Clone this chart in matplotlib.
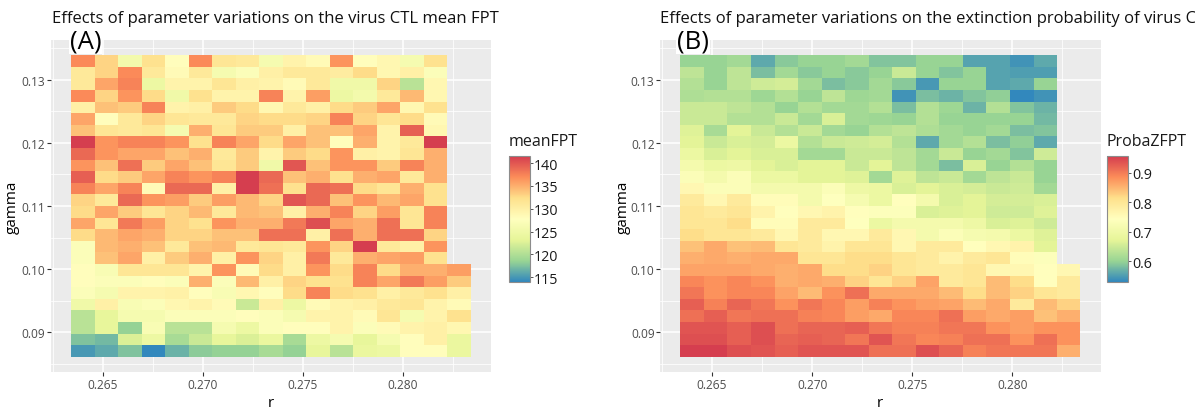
import numpy as np
import matplotlib
matplotlib.use("Agg")
import matplotlib.pyplot as plt
from matplotlib.colors import LinearSegmentedColormap

plt.rcParams['font.family'] = ['Open Sans', 'DejaVu Sans']

# ---------------- data ----------------
r_values = [0.26400, 0.26518, 0.26635, 0.26753, 0.26871, 0.26988, 0.27106, 0.27224, 0.27341,
            0.27459, 0.27576, 0.27694, 0.27812, 0.27929, 0.28047, 0.28165, 0.28282]
# rows from top (largest gamma) to bottom
gamma_values = [0.13300, 0.13116, 0.12932, 0.12748, 0.12564, 0.12380, 0.12196, 0.12012, 0.11828,
                0.11644, 0.11460, 0.11276, 0.11092, 0.10908, 0.10724, 0.10540, 0.10356, 0.10172,
                0.09988, 0.09804, 0.09620, 0.09436, 0.09252, 0.09068, 0.08884, 0.08700]

N = None
meanFPT = [
    [137, 133, 125.5, 132, 128, 137, 131.5, 131, 126, 129.5, 128.5, 136.5, 128, 129, 126, 132, N],
    [131, 133, 137, 131, 128.5, 131, 126, 127, 130, 131, 131, 130.5, 132.5, 129, 130, 127, N],
    [131, 135.5, 137.5, 124.5, 129.5, 129.5, 131.5, 130, 129.5, 128.5, 131, 125, 125, 133, 120.5, 129, N],
    [137, 133, 136.5, 132.5, 125, 132, 129.5, 129.5, 137.5, 129.5, 136, 124.5, 125.5, 131, 134.5, 129, N],
    [130, 134, 133.5, 137.5, 129.5, 130, 133.5, 132.5, 129, 131, 130, 132.5, 133.5, 135.5, 129, 132, N],
    [135.5, 128, 131, 133, 131.5, 131, 131, 133, 132.5, 132.5, 133, 137.5, 133, 131.5, 132.5, 128.5, N],
    [134, 131.5, 131, 131.5, 126, 135, 131.5, 133.5, 133.5, 130, 134, 134, 135.5, 129.5, 139.5, 129, N],
    [141.5, 136.5, 137.5, 137.5, 136.5, 132, 137.5, 135.5, 132.5, 135.5, 134, 128, 135, 129.5, 131, 141.5, N],
    [139, 136.5, 135.5, 135.5, 134, 135, 131, 133.5, 129.5, 133.5, 132.5, 136.5, 130, 129.5, 131.5, 135, N],
    [136.5, 134, 138.5, 133.5, 135.5, 134, 131.5, 133.5, 125, 140, 134, 136.5, 136.5, 133.5, 137.5, 135, N],
    [139.5, 132.5, 133.5, 135.5, 137.5, 136.5, 137.5, 141.5, 139, 134, 135, 132, 135, 135.5, 131, 135, N],
    [137.5, 135.5, 137.5, 128.5, 139, 139, 130, 141.5, 138.5, 132, 139, 138.5, 132.5, 131.5, 135, 132, N],
    [133, 131, 139, 136.5, 136, 133.5, 136, 134.5, 133, 140, 139, 134, 136.5, 134.5, 135.5, 132, N],
    [132.5, 135.5, 133.5, 131.5, 133, 134.5, 131, 134.5, 134, 130, 135, 137.5, 133, 136, 131.5, 137.5, N],
    [135.5, 131.5, 138, 136, 133, 132, 136.5, 135, 135, 138, 140.5, 135.5, 135, 138.5, 131.5, 137.5, N],
    [132.5, 134.5, 135.5, 135, 133, 133, 134, 134, 138.5, 138.5, 130, 138.5, 135, 138.5, 138.5, 133, N],
    [127, 134.5, 135, 134, 131, 134, 134.5, 131, 131.5, 131, 136.5, 133, 141.5, 131, 130, 136.5, N],
    [127, 134, 135.5, 130, 133.5, 135, 130, 136.5, 133, 130, 138, 131, 135, 135.5, 136, 132, N],
    [128, 126.5, 131.5, 131.5, 131.5, 129.5, 136.5, 128.5, 132.5, 130, 136.5, 132.5, 137.5, 132.5, 135, 135, 136],
    [128, 127, 127, 128, 127, 135, 127, 134.5, 130, 133, 132, 132, 137.5, 135.5, 138, 136, 133.5],
    [127, 126, 129.5, 129.5, 129.8, 128, 126.5, 129, 128, 132.5, 137.5, 132.5, 132, 130, 131, 132, 130],
    [125, 130, 126.5, 127, 129, 129.5, 128.5, 121.5, 130, 124.5, 128.5, 129.5, 130, 131, 131.5, 129.5, 128.5],
    [120.5, 123.5, 126, 126, 127, 127, 127, 128, 127, 126, 129.5, 129.5, 128.5, 131.5, 126, 129.5, 132],
    [120.5, 123.5, 118.5, 126.5, 120.5, 120.5, 126, 124.5, 127, 128, 128, 129.5, 127, 128.5, 129.5, 130, 129],
    [117.5, 117, 122.5, 124.5, 119.5, 121.5, 123.5, 122.5, 124, 119.5, 124.5, 126, 123.5, 126, 128, 130, 124],
    [115, 116, 117.5, 114, 116.5, 118, 118.5, 118.5, 119.5, 118.5, 123.5, 120.5, 124, 124.5, 128, 128, 124],
]

ProbaZFPT = [
    [0.6, 0.6, 0.61, 0.56, 0.59, 0.6, 0.6, 0.61, 0.585, 0.585, 0.6, 0.6, 0.555, 0.555, 0.54, 0.56, N],
    [0.635, 0.6, 0.635, 0.58, 0.61, 0.59, 0.6, 0.59, 0.6, 0.645, 0.6, 0.585, 0.6, 0.555, 0.55, 0.55, N],
    [0.625, 0.6, 0.635, 0.65, 0.655, 0.61, 0.58, 0.59, 0.61, 0.59, 0.545, 0.6, 0.6, 0.555, 0.56, 0.6, N],
    [0.62, 0.625, 0.625, 0.605, 0.625, 0.6, 0.635, 0.605, 0.61, 0.54, 0.58, 0.57, 0.585, 0.595, 0.53, 0.54, N],
    [0.645, 0.645, 0.635, 0.625, 0.6, 0.625, 0.61, 0.61, 0.625, 0.58, 0.625, 0.605, 0.57, 0.625, 0.585, 0.57, N],
    [0.645, 0.645, 0.625, 0.625, 0.645, 0.61, 0.66, 0.61, 0.605, 0.6, 0.625, 0.6, 0.6, 0.6, 0.6, 0.575, N],
    [0.665, 0.615, 0.67, 0.645, 0.625, 0.645, 0.61, 0.6, 0.625, 0.635, 0.62, 0.61, 0.6, 0.61, 0.58, 0.585, N],
    [0.67, 0.645, 0.66, 0.655, 0.69, 0.625, 0.645, 0.65, 0.655, 0.625, 0.56, 0.61, 0.625, 0.58, 0.595, 0.56, N],
    [0.69, 0.66, 0.67, 0.66, 0.66, 0.61, 0.61, 0.645, 0.645, 0.635, 0.61, 0.645, 0.6, 0.61, 0.585, 0.65, N],
    [0.71, 0.69, 0.695, 0.67, 0.66, 0.67, 0.67, 0.645, 0.67, 0.635, 0.61, 0.58, 0.66, 0.6, 0.625, 0.6, N],
    [0.73, 0.71, 0.73, 0.69, 0.69, 0.67, 0.67, 0.665, 0.61, 0.665, 0.635, 0.645, 0.61, 0.635, 0.645, 0.6, N],
    [0.76, 0.73, 0.73, 0.71, 0.71, 0.71, 0.73, 0.695, 0.69, 0.66, 0.67, 0.66, 0.655, 0.645, 0.65, 0.61, N],
    [0.79, 0.76, 0.79, 0.75, 0.75, 0.71, 0.74, 0.715, 0.69, 0.745, 0.71, 0.66, 0.67, 0.655, 0.655, 0.66, N],
    [0.8, 0.79, 0.8, 0.77, 0.745, 0.76, 0.77, 0.745, 0.735, 0.735, 0.66, 0.665, 0.67, 0.65, 0.65, 0.665, N],
    [0.8, 0.8, 0.815, 0.75, 0.75, 0.79, 0.79, 0.74, 0.69, 0.71, 0.71, 0.71, 0.695, 0.66, 0.665, 0.65, N],
    [0.815, 0.8, 0.8, 0.79, 0.76, 0.79, 0.76, 0.76, 0.79, 0.76, 0.71, 0.73, 0.715, 0.71, 0.69, 0.665, N],
    [0.84, 0.86, 0.84, 0.845, 0.8, 0.79, 0.77, 0.8, 0.8, 0.76, 0.79, 0.79, 0.745, 0.76, 0.77, 0.67, N],
    [0.855, 0.86, 0.855, 0.86, 0.86, 0.8, 0.8, 0.815, 0.815, 0.8, 0.79, 0.77, 0.79, 0.8, 0.75, 0.735, N],
    [0.865, 0.865, 0.865, 0.86, 0.855, 0.86, 0.815, 0.815, 0.825, 0.8, 0.79, 0.79, 0.8, 0.76, 0.76, 0.745, 0.76],
    [0.89, 0.88, 0.89, 0.88, 0.855, 0.86, 0.855, 0.825, 0.8, 0.825, 0.865, 0.79, 0.8, 0.845, 0.815, 0.745, 0.79],
    [0.905, 0.88, 0.89, 0.89, 0.865, 0.845, 0.88, 0.91, 0.86, 0.86, 0.86, 0.845, 0.815, 0.845, 0.825, 0.8, 0.79],
    [0.925, 0.895, 0.92, 0.905, 0.88, 0.905, 0.89, 0.87, 0.895, 0.88, 0.87, 0.865, 0.845, 0.86, 0.79, 0.845, 0.825],
    [0.91, 0.925, 0.905, 0.91, 0.91, 0.895, 0.89, 0.87, 0.86, 0.89, 0.89, 0.91, 0.87, 0.86, 0.87, 0.84, 0.855],
    [0.935, 0.935, 0.925, 0.94, 0.91, 0.92, 0.92, 0.925, 0.905, 0.895, 0.895, 0.905, 0.905, 0.88, 0.87, 0.88, 0.88],
    [0.94, 0.94, 0.925, 0.94, 0.92, 0.925, 0.92, 0.905, 0.935, 0.905, 0.89, 0.895, 0.91, 0.91, 0.88, 0.91, 0.88],
    [0.955, 0.955, 0.94, 0.935, 0.925, 0.935, 0.935, 0.935, 0.91, 0.91, 0.94, 0.92, 0.895, 0.905, 0.905, 0.905, 0.855],
]

x_ticks = [0.265, 0.270, 0.275, 0.280]
x_ticklabels = ["0.265", "0.270", "0.275", "0.280"]
y_ticks = [0.09, 0.10, 0.11, 0.12, 0.13]
y_ticklabels = ["0.09", "0.10", "0.11", "0.12", "0.13"]

titles = ["Effects of parameter variations on the virus CTL mean FPT",
          "Effects of parameter variations on the extinction probability of virus CTL"]
panel_tags = ["(A)", "(B)"]
legend_titles = ["meanFPT", "ProbaZFPT"]
cbar_ticks = [[115, 120, 125, 130, 135, 140], [0.6, 0.7, 0.8, 0.9]]
cbar_ticklabels = [["115", "120", "125", "130", "135", "140"], ["0.6", "0.7", "0.8", "0.9"]]

# ---------------- style ----------------
spectral7 = ["#3288BD", "#99D594", "#E6F598", "#FFFFBF", "#FEE08B", "#FC8D59", "#D53E4F"]
cmap = LinearSegmentedColormap.from_list("spectral_gg", spectral7)
cmap.set_bad((0, 0, 0, 0))

W, H = 1195, 414
fig = plt.figure(figsize=(W / 100, H / 100), dpi=100)

def fx(px):
    return px / W

def fy(py):
    return 1 - py / H

panels = [
    dict(ax=(51, 41, 490.7, 373), cb=(509, 157.3, 530, 282.7), title_x=52, tag_x=70,
         ylab_x=12, xlab_x=271),
    dict(ax=(660.2, 41, 1100.6, 373), cb=(1106.7, 157.3, 1128.3, 282.7), title_x=660, tag_x=677,
         ylab_x=623, xlab_x=880),
]

datasets = [meanFPT, ProbaZFPT]
r_arr = np.array(r_values)
g_arr = np.array(gamma_values)

for i, p in enumerate(panels):
    x0, y0, x1, y1 = p["ax"]
    ax = fig.add_axes([fx(x0), fy(y1), fx(x1 - x0), (y1 - y0) / H])
    ax.set_facecolor("#EBEBEB")
    Z = np.array([[np.nan if v is None else v for v in row] for row in datasets[i]], dtype=float)
    Zm = np.ma.masked_invalid(Z)
    mesh = ax.pcolormesh(r_arr, g_arr, Zm, cmap=cmap, shading="nearest",
                         vmin=np.nanmin(Z), vmax=np.nanmax(Z), zorder=2)
    dr = (r_arr[1] - r_arr[0])
    dg = abs(g_arr[1] - g_arr[0])
    xlo, xhi = r_arr.min() - dr / 2, r_arr.max() + dr / 2
    ylo, yhi = g_arr.min() - dg / 2, g_arr.max() + dg / 2
    ax.set_xlim(xlo - 0.05 * (xhi - xlo), xhi + 0.05 * (xhi - xlo))
    ax.set_ylim(ylo - 0.05 * (yhi - ylo), yhi + 0.05 * (yhi - ylo))
    ax.set_xticks(x_ticks)
    ax.set_xticklabels(x_ticklabels)
    ax.set_yticks(y_ticks)
    ax.set_yticklabels(y_ticklabels)
    ax.set_xticks([0.2625, 0.2675, 0.2725, 0.2775, 0.2825], minor=True)
    ax.set_yticks([0.085, 0.095, 0.105, 0.115, 0.125, 0.135], minor=True)
    ax.grid(True, which="major", color="white", lw=1.1, zorder=0)
    ax.grid(True, which="minor", color="white", lw=0.55, zorder=0)
    ax.set_axisbelow(True)
    ax.tick_params(which="major", length=2.6, width=0.8, color="#333333", pad=1.5,
                   labelsize=8.6, labelcolor="#4D4D4D")
    ax.tick_params(which="minor", length=0)
    for s in ax.spines.values():
        s.set_visible(False)

    fig.text(fx(p["title_x"]), fy(19), titles[i], fontsize=12, color="#111111",
             ha="left", va="center")
    fig.text(fx(p["tag_x"]), fy(42), panel_tags[i], fontsize=18.5, color="black",
             ha="left", va="center",
             bbox=dict(facecolor="white", edgecolor="none", pad=0.5))
    fig.text(fx(p["ylab_x"]), fy(207), "gamma", fontsize=11, rotation=90,
             ha="center", va="center", color="black")
    fig.text(fx(p["xlab_x"]), fy(404), "r", fontsize=11, ha="center", va="center",
             color="black")

    c0, cy0, c1, cy1 = p["cb"]
    cax = fig.add_axes([fx(c0), fy(cy1), fx(c1 - c0), (cy1 - cy0) / H])
    cb = fig.colorbar(mesh, cax=cax)
    cb.set_ticks(cbar_ticks[i])
    cb.set_ticklabels(cbar_ticklabels[i])
    cb.outline.set_edgecolor("#8c8c8c")
    cb.outline.set_linewidth(0.8)
    cax.tick_params(length=2, width=0.7, color="#555555", pad=1, labelsize=10.3,
                    labelcolor="#1a1a1a")
    fig.text(fx(c0), fy(cy0 - 15), legend_titles[i], fontsize=11.5, ha="left",
             va="center", color="#1a1a1a")

fig.savefig("out.png", dpi=100)
